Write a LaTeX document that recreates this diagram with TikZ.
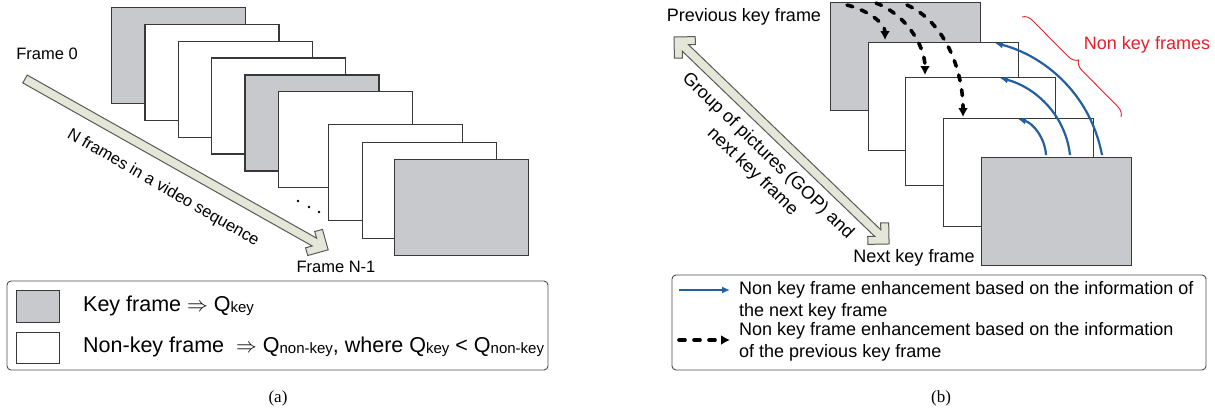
\documentclass[tikz,border=0pt]{standalone}
\usepackage{fontspec}
\setmainfont{Liberation Sans}
\newfontfamily\capfont{Liberation Serif}
\usetikzlibrary{arrows.meta,decorations.pathreplacing}
\definecolor{keygray}{RGB}{200,201,204}
\definecolor{arrowfill}{RGB}{228,230,216}
\definecolor{refblue}{RGB}{36,96,160}
\definecolor{bracered}{RGB}{232,30,40}
\newcommand{\qsub}[1]{\raisebox{-1.5pt}{\fontsize{15}{15}\selectfont #1}}
\tikzset{
  keyframe/.style={draw=black!78,line width=1.3pt,fill=keygray,anchor=north west,inner sep=0pt},
  frameA/.style={minimum width=134pt,minimum height=96pt},
  frameB/.style={minimum width=150pt,minimum height=108pt},
  bigarrow/.style={draw=black!65,line width=1pt,fill=arrowfill,line join=miter},
  lbl/.style={font=\fontsize{16.5}{20}\selectfont,inner sep=0pt},
  lblb/.style={font=\fontsize{18}{22}\selectfont,inner sep=0pt},
  lega/.style={font=\fontsize{21.5}{24}\selectfont,inner sep=0pt,anchor=west},
  legbox/.style={draw=black!70,line width=0.9pt,rounded corners=4pt},
  nextarrow/.style={refblue,line width=2.2pt,-{Latex[length=8pt,width=7pt]}},
  prevarrow/.style={line width=3.6pt,line cap=round,dash pattern=on 6pt off 9pt,-{Latex[length=9pt,width=10pt]}},
  capt/.style={font=\capfont\fontsize{17}{20}\selectfont,inner sep=0pt}
}
\begin{document}
\begin{tikzpicture}[x=1pt,y=-1pt]
\useasboundingbox (0,0) rectangle (1215,415);

% (a) frames of the sequence
\foreach \i/\c in {0/keygray,1/white,2/white,3/white,4/keygray,5/white}
  \node[keyframe,frameA,fill=\c] (fa\i) at ({111+33.3*\i},{7+16.8*\i}) {};
\node[keyframe,frameA,fill=white] (fa6) at (328,124) {};
\node[keyframe,frameA,fill=white] (fa7) at (362,142) {};
\node[keyframe,frameA] (fa8) at (394,159) {};
\foreach \x/\y in {298/201,309/207,319/212}
  \fill (\x,\y) circle (1.3pt);

% big arrow along the sequence
\begin{scope}[shift={(25,79)},rotate=-29.4]
  \filldraw[bigarrow] (0,4.5) -- (332.2,4.5) -- (327.3,9.3) -- (333,15) -- (348,0)
    -- (333,-15) -- (327.3,-9.3) -- (332.2,-4.5) -- (0,-4.5) -- cycle;
\end{scope}
\node[lbl] (f0) at (47,54) {Frame 0};
\node[lbl] (fn) at (336,267) {Frame N-1};
\node[lbl,rotate=-30] (nseq) at (163,188) {N frames in a video sequence};

% legend (a)
\draw[legbox] (7,281) rectangle (548,370);
\node[keyframe,minimum width=43pt,minimum height=32pt] (keysq) at (16,290) {};
\node[keyframe,minimum width=43pt,minimum height=31pt,fill=white] (nonsq) at (16,332) {};
\node[lega] (keytxt) at (83,306) {Key frame $\Rightarrow$ Q\qsub{key}};
\node[lega] (nontxt) at (83,347) {Non-key frame \ $\Rightarrow$ Q\qsub{non-key}, where Q\qsub{key} < Q\qsub{non-key}};
\node[capt] (capa) at (278,398) {(a)};

% (b) one group of pictures
\foreach \i/\c/\x/\y in {0/keygray/830/2,1/white/868/42,2/white/905/77,3/white/943/118,4/keygray/981/157}
  \node[keyframe,frameB,fill=\c] (fb\i) at (\x,\y) {};

\begin{scope}[shift={(674,37)},rotate=-43.9]
  \filldraw[bigarrow] (298.5,0) -- (283.5,15) -- (277.8,9.3) -- (282.7,4.5) -- (15.8,4.5)
    -- (20.7,9.3) -- (15,15) -- (0,0) -- (15,-15) -- (20.7,-9.3) -- (15.8,-4.5)
    -- (282.7,-4.5) -- (277.8,-9.3) -- (283.5,-15) -- cycle;
\end{scope}
\node[lblb] (prev) at (744,17) {Previous key frame};
\node[lblb] (next) at (914,258) {Next key frame};
\node[lblb,rotate=-43.9,align=center] (gop) at (760,164) {Group of pictures (GOP) and\\next key frame};

% enhancement from the previous key frame
\coordinate (d1s) at (847,5);  \coordinate (d1e) at (885,40);
\coordinate (d2s) at (876,3);  \coordinate (d2e) at (925,75);
\coordinate (d3s) at (907,5);  \coordinate (d3e) at (963,117);
\draw[prevarrow] (d1s) .. controls (870,11) and (885,24) .. (d1e);
\draw[prevarrow] (d2s) .. controls (905,14) and (925,45) .. (d2e);
\draw[prevarrow] (d3s) .. controls (945,22) and (963,70) .. (d3e);

% enhancement from the next key frame
\coordinate (n1s) at (1046,155); \coordinate (n1e) at (1018,119);
\coordinate (n2s) at (1070,155); \coordinate (n2e) at (1000,78);
\coordinate (n3s) at (1102,155); \coordinate (n3e) at (995,43);
\draw[nextarrow] (n1s) .. controls (1045,138) and (1033,123) .. (n1e);
\draw[nextarrow] (n2s) .. controls (1065,112) and (1032,86) .. (n2e);
\draw[nextarrow] (n3s) .. controls (1090,92) and (1042,55) .. (n3e);

\draw[bracered,line width=0.9pt,decorate,decoration={brace,amplitude=10pt}] (1022,17) -- (1121,117);
\node[lblb,text=bracered] (nklbl) at (1147,45) {Non key frames};

% legend (b)
\draw[legbox] (672,275) rectangle (1206,370);
\coordinate (lb1) at (679,290); \coordinate (lb2) at (730,290);
\coordinate (lb3) at (679,340); \coordinate (lb4) at (730,340);
\draw[nextarrow] (lb1) -- (lb2);
\draw[prevarrow] (lb3) -- (lb4);
\node[lblb,anchor=west,align=left] (legtxt1) at (739,301) {Non key frame enhancement based on the information of\\the next key frame};
\node[lblb,anchor=west,align=left] (legtxt2) at (739,342) {Non key frame enhancement based on the information\\of the previous key frame};
\node[capt] (capb) at (941,398) {(b)};
\end{tikzpicture}
\end{document}
